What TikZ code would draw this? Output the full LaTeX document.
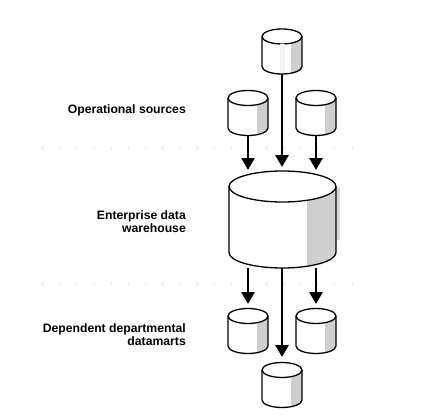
\documentclass[tikz,border=0pt]{standalone}
\usepackage{fontspec}
\setmainfont{Liberation Sans}
\tikzset{
    flow/.style={line width=2.8pt, -{Triangle[length=12pt, width=13pt]}},
    rim/.style={line width=1.3pt, line join=round},
    tierlabel/.style={anchor=east, align=right, inner sep=0pt, font=\fontsize{12.2}{13}\selectfont\bfseries},
    tierline/.style={gray!45, line width=1pt, dash pattern=on 1pt off 16.2pt}
}
\usetikzlibrary{arrows.meta}
% name, centre x, top rim y, half width, half height of rim, depth, shaded band
\newcommand{\drum}[7]{
    \coordinate (#1) at (#2, #3);
    \coordinate (#1-bottom) at (#2, #3+#6+#5);
    \fill[white] (#2-#4, #3) -- ++(0, #6) arc (180:0:#4 and #5) -- ++(0, -#6) -- cycle;
    \begin{scope}
        \clip (#2-#4, #3) -- ++(0, #6) arc (180:0:#4 and #5) -- ++(0, -#6) arc (0:180:#4 and #5) -- cycle;
        \fill[gray!38] (#2+#4-#7, #3-#5) rectangle (#2+#4, #3+#6+#5);
    \end{scope}
    \draw[rim] (#2-#4, #3) -- ++(0, #6) arc (180:0:#4 and #5) -- ++(0, -#6);
    \draw[rim, fill=white] (#2, #3) ellipse (#4 and #5);
}
\begin{document}
\begin{tikzpicture}[x=1pt, y=-1pt]
    \useasboundingbox (0,0) rectangle (442,420);

    % Tier separators
    \draw[tierline] (42,148) -- (352,148);
    \draw[tierline] (42,283) -- (352,283);

    % Warehouse shadow
    \fill[gray!30] (336,187) rectangle (340,240);

    % Sources
    \drum{srcTop}{282}{36.5}{20}{7.5}{30}{11}
    \fill[gray!10] (280,44) rectangle (284.5,73);
    \drum{srcLeft}{248}{98}{20}{7.5}{30}{11}
    \drum{srcRight}{316}{98}{20}{7.5}{30}{11}

    % Warehouse
    \drum{warehouse}{282.5}{186.5}{53.5}{15.5}{66}{29}

    % Datamarts
    \drum{martLeft}{248}{316}{20}{7.5}{30}{11}
    \drum{martRight}{316}{316}{20}{7.5}{30}{11}
    \drum{martBottom}{282}{370}{20}{7.5}{30}{11}

    % Free ends of the arrows
    \coordinate (inLeft) at (248,170);
    \coordinate (inMid) at (282,167);
    \coordinate (inRight) at (316,170);
    \coordinate (outLeftA) at (248,268);
    \coordinate (outMidA) at (282,268);
    \coordinate (outRightA) at (316,268);
    \coordinate (outLeft) at (248,304);
    \coordinate (outMid) at (282,357);
    \coordinate (outRight) at (316,304);

    % Arrows
    \draw[flow] (srcTop-bottom) -- (inMid);
    \draw[flow] (srcLeft-bottom) -- (inLeft);
    \draw[flow] (srcRight-bottom) -- (inRight);
    \draw[flow] (outLeftA) -- (outLeft);
    \draw[flow] (outMidA) -- (outMid);
    \draw[flow] (outRightA) -- (outRight);

    % Labels
    \node[tierlabel] (sources) at (186,110.5) {Operational sources};
    \node[tierlabel] (edw) at (186,221.5) {Enterprise data\\warehouse};
    \node[tierlabel] (marts) at (186,334.5) {Dependent departmental\\datamarts};
\end{tikzpicture}
\end{document}
